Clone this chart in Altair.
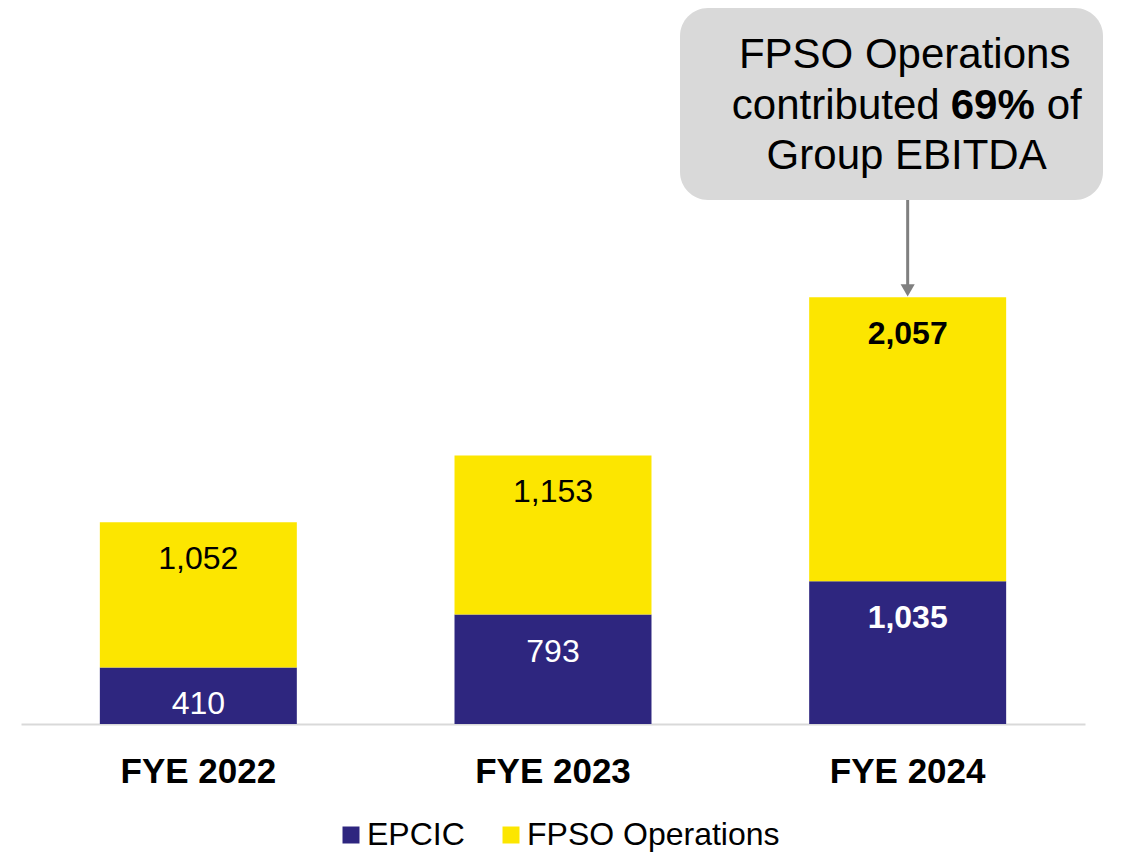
import altair as alt
import pandas as pd

years = ["FYE 2022", "FYE 2023", "FYE 2024"]
epcic = [410, 793, 1035]
fpso = [1052, 1153, 2057]
series = ["EPCIC", "FPSO Operations"]
colors = ["#2E267F", "#FCE600"]

ann_lines = ["FPSO Operations", "contributed", "69%", "of", "Group EBITDA"]

rows = []
for i, y in enumerate(years):
    rows.append({"year": y, "series": series[0], "order": 0, "value": epcic[i]})
    rows.append({"year": y, "series": series[1], "order": 1, "value": fpso[i]})
df = pd.DataFrame(rows)

tot = pd.DataFrame({"year": years, "total": [a + b for a, b in zip(epcic, fpso)]})

FONT = "Liberation Sans"

xenc = alt.X(
    "year:N",
    sort=years,
    scale=alt.Scale(paddingInner=0.4446, paddingOuter=0.2223),
    axis=alt.Axis(
        title=None, labelAngle=0, labelFont=FONT, labelFontSize=35,
        labelFontWeight="bold", labelColor="#000000", ticks=False, tickSize=0,
        labelPadding=58, labelBaseline="alphabetic",
        domainColor="#D9D9D9", domainWidth=2,
    ),
)
yscale = alt.Scale(domain=[0, 5188], nice=False, zero=True)

base = alt.Chart(df).transform_stack(
    stack="value", groupby=["year"], as_=["y0", "y1"],
    sort=[alt.SortField("order", order="ascending")],
)

bars = base.mark_bar().encode(
    x=xenc,
    y=alt.Y("y0:Q", scale=yscale, axis=None),
    y2="y1:Q",
    color=alt.Color(
        "series:N",
        scale=alt.Scale(domain=series, range=colors),
        legend=alt.Legend(
            title=None, orient="none", legendX=314, legendY=811,
            direction="horizontal", symbolType="square", symbolSize=289,
            symbolStrokeWidth=0, labelFont=FONT, labelFontSize=32,
            labelColor="#000000", labelOffset=0, columnPadding=30, padding=0,
            labelLimit=500,
        ),
    ),
)

label_color = alt.condition(alt.datum.series == "EPCIC", alt.value("white"), alt.value("black"))

labels_norm = base.transform_filter(alt.datum.year != "FYE 2024").mark_text(
    font=FONT, fontSize=32, dy=47, baseline="alphabetic"
).encode(
    x=alt.X("year:N", sort=years),
    y=alt.Y("y1:Q", scale=yscale, axis=None),
    text=alt.Text("value:Q", format=",.0f"),
    color=label_color,
)

labels_bold = base.transform_filter(alt.datum.year == "FYE 2024").mark_text(
    font=FONT, fontSize=32, fontWeight="bold", dy=47, baseline="alphabetic"
).encode(
    x=alt.X("year:N", sort=years),
    y=alt.Y("y1:Q", scale=yscale, axis=None),
    text=alt.Text("value:Q", format=",.0f"),
    color=label_color,
)

# Callout
ann_df = pd.DataFrame({"year": ["FYE 2024"]})
box = alt.Chart(ann_df).mark_rect(color="#D9D9D9", cornerRadius=28).encode(
    x=alt.value(659), x2=alt.value(1082), y=alt.value(0), y2=alt.value(192)
)

tot24 = tot[tot["year"] == "FYE 2024"]
arrow_line = alt.Chart(tot24).mark_rule(color="#808080", strokeWidth=3, yOffset=-10).encode(
    x=alt.X("year:N", sort=years),
    y=alt.Y("total:Q", scale=yscale, axis=None),
    y2=alt.value(192),
)
arrow_head = alt.Chart(tot24).mark_point(
    shape="triangle-down", filled=True, size=200, color="#808080", opacity=1, yOffset=-7
).encode(
    x=alt.X("year:N", sort=years),
    y=alt.Y("total:Q", scale=yscale, axis=None),
)

def ann_text(txt, yval, dx, align, weight="normal"):
    return alt.Chart(ann_df).mark_text(
        text=txt, font=FONT, fontSize=42, fontWeight=weight, color="#000000",
        align=align, baseline="alphabetic", dx=dx,
    ).encode(x=alt.X("year:N", sort=years), y=alt.value(yval))

t1 = ann_text(ann_lines[0], 60, -3, "center")
t2a = ann_text(ann_lines[1], 111, 32, "right")
t2b = ann_text(ann_lines[2], 111, 43, "left", "bold")
t2c = ann_text(ann_lines[3], 111, 139, "left")
t3 = ann_text(ann_lines[4], 161, -1, "center")

chart = alt.layer(
    bars, labels_norm, labels_bold, box, arrow_line, arrow_head, t1, t2a, t2b, t2c, t3
).properties(
    width=1064, height=716,
    background="white",
    autosize=alt.AutoSizeParams(type="none"),
    padding={"left": 13, "top": 0, "right": 47, "bottom": 128},
).configure_view(strokeWidth=0, stroke="transparent")

chart.save("out.html", embed_options={"renderer": "svg", "actions": False})
